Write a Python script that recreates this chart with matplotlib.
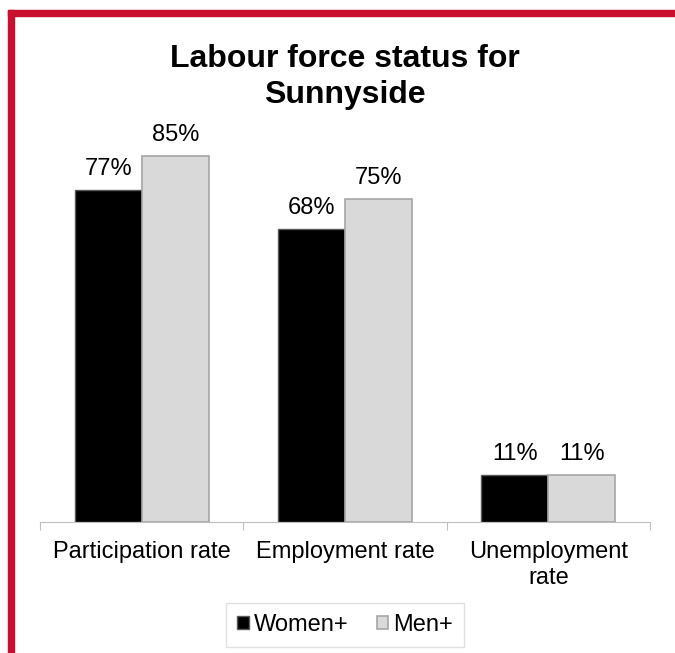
import matplotlib.pyplot as plt
import numpy as np
from matplotlib.patches import Rectangle

categories = ['Participation rate', 'Employment rate', 'Unemployment\nrate']
women = [77, 68, 11]
men = [85, 75, 11]
series_names = ['Women+', 'Men+']

plt.rcParams['font.family'] = ['Liberation Sans', 'DejaVu Sans']

fig = plt.figure(figsize=(6.75, 6.53), dpi=100)
ax = fig.add_axes([40 / 675, 1 - 522 / 653, 610 / 675, 431 / 653])

x = np.arange(len(categories))
w = 0.33
b1 = ax.bar(x - w / 2, women, w, color='black', edgecolor='#595959', linewidth=1, label=series_names[0])
b2 = ax.bar(x + w / 2, men, w, color='#D9D9D9', edgecolor='#A6A6A6', linewidth=1.2, label=series_names[1])

for bars in (b1, b2):
    for r in bars:
        ax.annotate(f'{r.get_height():.0f}%', (r.get_x() + r.get_width() / 2, r.get_height()),
                    xytext=(0, 7), textcoords='offset points', ha='center', va='bottom', fontsize=17)

ax.set_xlim(-0.5, 2.5)
ax.set_ylim(0, 100)
ax.set_yticks([])
for s in ['top', 'right', 'left']:
    ax.spines[s].set_visible(False)
ax.spines['bottom'].set_color('#BFBFBF')
ax.set_xticks([-0.5, 0.5, 1.5, 2.5], minor=False)
ax.set_xticklabels([])
ax.tick_params(axis='x', which='major', length=6, color='#BFBFBF')
ax.set_xticks(x, minor=True)
ax.set_xticklabels(categories, minor=True, fontsize=17, linespacing=1.2)
ax.tick_params(axis='x', which='minor', length=0, pad=14)

fig.text(345 / 675, 1 - 77 / 653, 'Labour force status for\nSunnyside', ha='center', va='center',
         fontsize=23, fontweight='bold', linespacing=1.25)

leg = fig.legend(loc='center', bbox_to_anchor=(345 / 675, 1 - 625 / 653), ncol=2, fontsize=17,
                 handlelength=0.5, handleheight=0.5, handletextpad=0.2, columnspacing=1.2,
                 fancybox=False, edgecolor='#D9D9D9', borderpad=0.45, borderaxespad=0)

fig.patches.append(Rectangle((8 / 675, 0), 6 / 675, 1 - 10 / 653, transform=fig.transFigure,
                             color='#C8102E', zorder=10))
fig.patches.append(Rectangle((8 / 675, 1 - 16 / 653), 1, 6 / 653, transform=fig.transFigure,
                             color='#C8102E', zorder=10))

fig.savefig('out.png', dpi=100)
